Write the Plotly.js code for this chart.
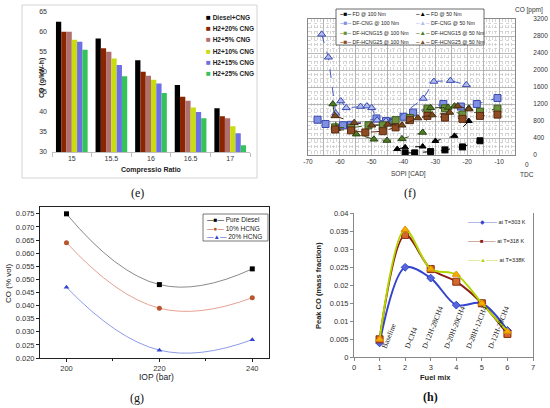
<!DOCTYPE html>
<html>
<head>
<meta charset="utf-8">
<script src="https://cdn.plot.ly/plotly-3.0.1.min.js"></script>
<style>html,body{margin:0;padding:0;background:#fff;}#chart{width:550px;height:408px;}</style>
</head>
<body>
<div id="chart"></div>
<script>
// ---------- (e) data ----------
const compRatio = ['15', '15.5', '16', '16.5', '17'];
const eNames = ['Diesel+CNG', 'H2+20% CNG', 'H2+5% CNG', 'H2+10% CNG', 'H2+15% CNG', 'H2+25% CNG'];
const dieselCNG = [62.5, 58.3, 52.9, 46.7, 40.9];
const h2cng20 = [60.0, 55.9, 50.0, 43.8, 38.9];
const h2cng5 = [60.0, 55.0, 49.0, 42.8, 38.4];
const h2cng10 = [58.0, 53.3, 48.0, 41.1, 36.4];
const h2cng15 = [57.5, 51.7, 47.1, 40.0, 34.7];
const h2cng25 = [55.5, 48.9, 44.7, 38.4, 31.7];

// ---------- (f) data ----------
const fNames = ['FD @ 100 Nm', 'FD @ 50 Nm', 'DF-CNG @ 100 Nm', 'DF-CNG @ 50 Nm',
                'DF-HCNG15 @ 100 Nm', 'DF-HCNG15 @ 50 Nm', 'DF-HCNG25 @ 100 Nm', 'DF-HCNG25 @ 50 Nm'];
const fdX100 = [-39.5, -36.5, -31.5, -27, -21.5, -16];
const fdY100 = [50, 50, 80, 120, 190, 335];
const fdX50 = [-42, -39.5, -34, -30, -24, -19.5];
const fdY50 = [140, 180, 200, 330, 450, 800];
const cngX100 = [-67, -64.5, -59, -56.5, -48.5, -45.5, -43, -40, -37, -27.5, -22, -17, -10.5];
const cngY100 = [830, 730, 700, 710, 860, 800, 790, 900, 1000, 1200, 1140, 1200, 1340];
const cngX50 = [-65.7, -63.6, -61.3, -59.7, -58, -53.5, -51.5, -50, -48.3, -45.5, -43.5, -33.8, -30.5, -25.3, -20.3];
const cngY50 = [2840, 2300, 980, 1270, 1110, 1140, 1150, 1110, 820, 800, 780, 1330, 1730, 1750, 1650];
const h15X100 = [-61.5, -56.5, -51, -46.5, -42.5, -38, -32.5, -27, -21.5, -16, -10.5];
const h15Y100 = [650, 640, 700, 700, 820, 870, 1090, 1100, 950, 1020, 1090];
const h15X50 = [-62.2, -61, -54.8, -49.3, -45.2, -40.5, -34, -31.5, -26, -24, -19.5];
const h15Y50 = [1200, 620, 490, 370, 340, 380, 530, 1110, 1120, 1150, 1100];
const h25X100 = [-61.5, -56.5, -52, -46.5, -42.5, -38, -32.5, -27, -21.5, -16, -10.5];
const h25Y100 = [600, 580, 530, 560, 650, 820, 920, 880, 850, 920, 950];
const h25X50 = [-61.5, -55.5, -50, -45, -40.5, -35.5, -31, -25.5, -23, -19.5];
const h25Y50 = [920, 760, 700, 720, 700, 870, 940, 1000, 1150, 1080];
const sopiTicks = [-70, -65, -60, -55, -50, -45, -40, -35, -30, -25, -20, -15, -10];

// ---------- (g) data ----------
const gNames = ['Pure Diesel', '10% HCNG', '20% HCNG'];
const iop = [200, 220, 240];
const pureDiesel = [0.075, 0.048, 0.054];
const hcng10 = [0.064, 0.039, 0.043];
const hcng20 = [0.047, 0.023, 0.027];

// ---------- (h) data ----------
const hNames = ['at T=303 K', 'at T=318 K', 'at T=338K'];
const fuelMix = [1, 2, 3, 4, 5, 6];
const fuelLabels = ['Baseline', 'D-CH4', 'D-12H-28CH4', 'D-20H-20CH4', 'D-28H-12CH4', 'D-12H-28CH4'];
const t303 = [0.004, 0.025, 0.022, 0.0145, 0.015, 0.0075];
const t318 = [0.005, 0.034, 0.0245, 0.021, 0.015, 0.0065];
const t338 = [0.005, 0.0355, 0.0245, 0.023, 0.015, 0.0072];

// ---------- helpers ----------
const W = 550, H = 408;
const PX = p => p / W;
const PY = p => 1 - p / H;
const SANS = 'Liberation Sans, Arial, sans-serif';
const SERIF = 'Liberation Serif, Times New Roman, serif';

const traces = [];

// (e) bars
const eColors = ['#000000', '#8B2500', '#B07070', '#C8DC10', '#6E6EE6', '#33C35A'];
[dieselCNG, h2cng20, h2cng5, h2cng10, h2cng15, h2cng25].forEach((vals, i) => {
  traces.push({type: 'bar', x: compRatio, y: vals, name: eNames[i], xaxis: 'x', yaxis: 'y',
    marker: {color: eColors[i], line: {width: 0}}});
});

// (f) scatter
const fStyle = [
  {sym: 'square', fill: '#000000', edge: '#000000', line: '#000000'},
  {sym: 'triangle-up', fill: '#000000', edge: '#000000', line: '#000000'},
  {sym: 'square', fill: '#7F8FE2', edge: '#3A4AAE', line: '#4A5CC0'},
  {sym: 'triangle-up', fill: '#B4BDF2', edge: '#3A4AAE', line: '#4A5CC0'},
  {sym: 'square', fill: '#6E8F3C', edge: '#3B5A1E', line: '#3B5A1E'},
  {sym: 'triangle-up', fill: '#4E7A26', edge: '#2B4612', line: '#2B4612'},
  {sym: 'square', fill: '#8E4C24', edge: '#5A2A10', line: '#5A2A10'},
  {sym: 'triangle-up', fill: '#7A4A20', edge: '#4A2A0E', line: '#4A2A0E'}
];
const fData = [[fdX100, fdY100], [fdX50, fdY50], [cngX100, cngY100], [cngX50, cngY50],
               [h15X100, h15Y100], [h15X50, h15Y50], [h25X100, h25Y100], [h25X50, h25Y50]];
fData.forEach((d, i) => {
  const s = fStyle[i];
  traces.push({type: 'scatter', mode: 'lines+markers', x: d[0], y: d[1], name: fNames[i],
    xaxis: 'x2', yaxis: 'y2',
    line: {color: s.line, width: 1, dash: 'dash'},
    marker: {symbol: s.sym, size: i < 2 ? 6 : 7, color: s.fill, line: {color: s.edge, width: 1}}});
});

// (g) scatter
const gStyle = [
  {sym: 'square', mc: '#000000', lc: '#8a8a8a'},
  {sym: 'circle', mc: '#B8552C', lc: '#E6A292'},
  {sym: 'triangle-up', mc: '#3243D0', lc: '#8E9CE6'}
];
[pureDiesel, hcng10, hcng20].forEach((vals, i) => {
  traces.push({type: 'scatter', mode: 'lines+markers', x: iop, y: vals, name: gNames[i],
    xaxis: 'x3', yaxis: 'y3',
    line: {color: gStyle[i].lc, width: 1, shape: 'spline', smoothing: 1.3},
    marker: {symbol: gStyle[i].sym, size: 5, color: gStyle[i].mc}});
});

// (h) scatter
const hStyle = [
  {sym: 'diamond', mc: '#5566DD', me: '#3344CC', lc: '#3344CC'},
  {sym: 'square', mc: '#D2692A', me: '#8B2A12', lc: '#8B1F14'},
  {sym: 'triangle-up', mc: '#F5B000', me: '#E09000', lc: '#B4D400'}
];
[t303, t318, t338].forEach((vals, i) => {
  traces.push({type: 'scatter', mode: 'lines+markers', x: fuelMix, y: vals, name: hNames[i],
    xaxis: 'x4', yaxis: 'y4',
    line: {color: hStyle[i].lc, width: 2, shape: 'spline', smoothing: 0.9},
    marker: {symbol: hStyle[i].sym, size: i === 0 ? 6 : 7, color: hStyle[i].mc, line: {color: hStyle[i].me, width: 1}}});
});

// ---------- annotations ----------
const ann = [];
function txt(px, py, text, size, opts) {
  ann.push(Object.assign({xref: 'paper', yref: 'paper', x: PX(px), y: PY(py), text: text,
    showarrow: false, xanchor: 'center', yanchor: 'middle',
    font: {size: size, family: SANS, color: '#222'}}, opts || {}));
}
function legendEntry(px, py, sym, symColor, label, size, symSize, family) {
  ann.push({xref: 'paper', yref: 'paper', x: PX(px), y: PY(py), xanchor: 'left', yanchor: 'middle',
    showarrow: false,
    text: '<span style="color:' + symColor + ';font-size:' + symSize + 'px">' + sym + '</span> ' + label,
    font: {size: size, family: family || SANS, color: '#222'}});
}

// (e)
txt(42, 78, '<b>CO (g/kW-h)</b>', 7, {textangle: -90});
txt(151, 170, '<b>Compressio Ratio</b>', 7);
txt(137, 193, '(e)', 12, {font: {size: 12, family: SERIF, color: '#111'}});
eNames.forEach((n, i) => legendEntry(204, 17.3 + i * 11.3, '■', eColors[i], '<b>' + n + '</b>', 6.5, 8));

// (f)
txt(408, 174, 'SOPI [CAD]', 6.5, {font: {size: 6.5, family: SANS, color: '#333'}});
txt(527, 174, 'TDC', 6.5, {font: {size: 6.5, family: SANS, color: '#333'}});
txt(527, 164, '0', 6.5, {font: {size: 6.5, family: SANS, color: '#333'}});
txt(529, 10, 'CO [ppm]', 6.5, {font: {size: 6.5, family: SANS, color: '#333'}});
txt(410, 193, '(f)', 12, {font: {size: 12, family: SERIF, color: '#111'}});
const fSymbols = ['■', '▲'];
fNames.forEach((n, i) => {
  const col = i % 2, row = Math.floor(i / 2);
  legendEntry(col === 0 ? 338 : 414, 13.5 + row * 9.3,
    '–' + fSymbols[i % 2] + '–', fStyle[i].edge === '#000000' ? '#000' : fStyle[i].fill, n, 5.2, 6.5);
});

// (g)
txt(8, 284, 'CO (% vol)', 8, {textangle: -90});
txt(156, 377, 'IOP (bar)', 8.5);
txt(137, 398, '(g)', 12, {font: {size: 12, family: SERIF, color: '#111'}});
const gSyms = ['—■—', '—●—', '—▲—'];
gNames.forEach((n, i) => legendEntry(205, 219.5 + i * 8.6, gSyms[i], gStyle[i].mc, n, 6.5, 6.5));

// (h)
txt(318, 286, '<b>Peak CO (mass fraction)</b>', 7.5, {textangle: -90});
txt(435, 377, '<b>Fuel mix</b>', 7.5);
txt(430, 397, '<b>(h)</b>', 12, {font: {size: 12, family: SERIF, color: '#111'}});
const hSyms = ['——◆——', '——■——', '——▲——'];
hNames.forEach((n, i) => legendEntry(466, 222.5 + i * 18.7, hSyms[i], hStyle[i].lc, n, 5.5, 6));
fuelLabels.forEach((lab, i) => {
  ann.push({xref: 'x4', yref: 'y4', x: 1.35 + i * 0.86, y: 0.0013, xanchor: 'center', yanchor: 'bottom',
    text: lab, textangle: -68, showarrow: false,
    font: {size: 7.5, family: SERIF, color: '#111'}});
});

// ---------- shapes ----------
const shapes = [
  {type: 'rect', xref: 'paper', yref: 'paper', x0: PX(22), x1: PX(257), y0: PY(178), y1: PY(5),
   line: {color: '#d4d4d4', width: 1}, fillcolor: 'rgba(0,0,0,0)', layer: 'below'},
  {type: 'rect', xref: 'paper', yref: 'paper', x0: PX(336), x1: PX(484), y0: PY(45), y1: PY(9),
   line: {color: '#444', width: 0.8}, fillcolor: '#ffffff', layer: 'above'},
  {type: 'rect', xref: 'paper', yref: 'paper', x0: PX(203), x1: PX(268), y0: PY(241), y1: PY(214),
   line: {color: '#555', width: 0.8}, fillcolor: '#ffffff', layer: 'above'}
];

const tickF = (s, c) => ({size: s, family: SANS, color: c || '#333'});

const layout = {
  width: W, height: H, margin: {l: 0, r: 0, t: 0, b: 0},
  paper_bgcolor: '#ffffff', plot_bgcolor: 'rgba(0,0,0,0)', showlegend: false,
  barmode: 'group', bargap: 0.2, bargroupgap: 0,
  font: {family: SANS, color: '#222'},
  // (e)
  xaxis: {domain: [PX(52), PX(250)], anchor: 'y', type: 'category', showline: true, linecolor: '#bfbfbf',
    ticks: 'outside', tickson: 'boundaries', ticklen: 4, tickcolor: '#bfbfbf', tickfont: tickF(7, '#333'),
    showgrid: false, zeroline: false},
  yaxis: {domain: [PY(152), PY(11.7)], anchor: 'x', range: [30, 65], dtick: 5, showgrid: false,
    zeroline: false, showline: false, ticks: '', tickfont: tickF(7, '#333'), ticklabelstandoff: 4},
  // (f)
  xaxis2: {domain: [PX(308), PX(515)], anchor: 'y2', range: [-70, -5], tickmode: 'array',
    tickvals: sopiTicks, ticktext: sopiTicks.map(v => (v % 10 === 0 ? String(v) : '')),
    showgrid: true, gridcolor: '#a6a6a6', gridwidth: 0.8, zeroline: false,
    showline: true, linecolor: '#888', mirror: true, ticks: '', tickfont: tickF(6.5),
    minor: {dtick: 1, showgrid: true, gridcolor: '#c4c4c4', griddash: 'dot', gridwidth: 0.7}},
  yaxis2: {domain: [PY(155), PY(19)], anchor: 'x2', side: 'right', range: [0, 3200], dtick: 400,
    showgrid: true, gridcolor: '#a6a6a6', gridwidth: 0.8, zeroline: false,
    showline: true, linecolor: '#888', mirror: true, ticks: '', tickfont: tickF(6.5), ticklabelstandoff: 16,
    minor: {dtick: 100, showgrid: true, gridcolor: '#c4c4c4', griddash: 'dot', gridwidth: 0.7}},
  // (g)
  xaxis3: {domain: [PX(40), PX(269)], anchor: 'y3', range: [194.3, 243.6], tickmode: 'array',
    tickvals: iop, showgrid: false, zeroline: false, showline: true, linecolor: '#222', mirror: true,
    ticks: 'outside', ticklen: 3, tickcolor: '#222', tickfont: tickF(7.5),
    minor: {dtick: 10, tick0: 200, ticks: 'outside', ticklen: 2, tickcolor: '#222'}},
  yaxis3: {domain: [PY(358), PY(207)], anchor: 'x3', range: [0.02, 0.0776], dtick: 0.005, tick0: 0.02,
    tickformat: '.3f', showgrid: false, zeroline: false, showline: true, linecolor: '#222', mirror: true,
    ticks: 'outside', ticklen: 3, tickcolor: '#222', tickfont: tickF(7.5)},
  // (h)
  xaxis4: {domain: [PX(354), PX(533)], anchor: 'y4', range: [0, 7], dtick: 1, showgrid: false,
    zeroline: false, showline: true, linecolor: '#888', ticks: 'outside', ticklen: 3, tickcolor: '#888',
    tickfont: tickF(7.5)},
  yaxis4: {domain: [PY(357.3), PY(213.3)], anchor: 'x4', range: [0, 0.04], dtick: 0.005, showgrid: false,
    zeroline: false, showline: true, linecolor: '#888', mirror: true, ticks: 'outside', ticklen: 3,
    tickcolor: '#888', tickfont: tickF(7.5)},
  annotations: ann,
  shapes: shapes
};

Plotly.newPlot('chart', traces, layout, {staticPlot: true, displayModeBar: false});
</script>
</body>
</html>
